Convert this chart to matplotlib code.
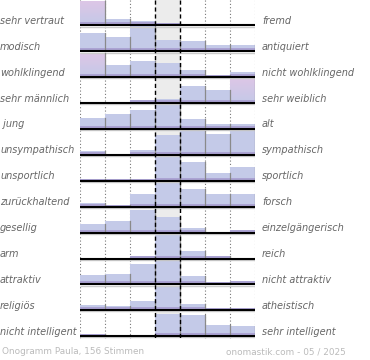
import numpy as np
import matplotlib
matplotlib.use("Agg")
import matplotlib.pyplot as plt
from matplotlib.patches import Rectangle
from matplotlib import transforms

# -----------------------------
# Onogram data (bar heights, 7 steps per row)
# -----------------------------
left_labels = ["sehr vertraut", "modisch", "wohlklingend", "sehr männlich", " jung",
               "unsympathisch", "unsportlich", "zurückhaltend", "gesellig", "arm",
               "attraktiv", "religiös", "nicht intelligent"]
right_labels = ["fremd", "antiquiert", "nicht wohlklingend", "sehr weiblich", "alt",
                "sympathisch", "sportlich", "forsch", "einzelgängerisch", "reich",
                "nicht attraktiv", "atheistisch", "sehr intelligent"]

r1 = [24, 6, 4, 2.3, 0, 0, 0]
r2 = [18.4, 14, 25.5, 11, 10, 6, 6]
r3 = [24, 12.3, 16, 14, 7, 2, 5.6]
r4 = [0, 0, 3, 4, 17, 13.6, 25]
r5 = [10.7, 15.3, 19.3, 24.7, 9.7, 4.7, 4.7]
r6 = [3.6, 0, 4.6, 19.6, 24.3, 21, 25]
r7 = [2, 2, 2, 25, 19, 8, 13.5]
r8 = [4, 2, 13, 23.4, 17.4, 12.4, 13]
r9 = [9, 11.6, 23, 15.6, 5, 0, 2.3]
r10 = [1, 1, 2.3, 24, 7.6, 2.5, 1]
r11 = [9.3, 10.7, 20.7, 23.3, 8.3, 2.3, 3.7]
r12 = [5.3, 4.3, 9.3, 24, 6.7, 2.7, 2.7]
r13 = [1.7, 0, 0, 22.5, 21.5, 11, 10.3]
rows = [r1, r2, r3, r4, r5, r6, r7, r8, r9, r10, r11, r12, r13]

# bars drawn with the pink top tint (row, column)
pink_bars = [(0, 0), (2, 0), (3, 6)]

footer_left = "Onogramm Paula, 156 Stimmen"
footer_right = "onomastik.com - 05 / 2025"

# -----------------------------
# Figure
# -----------------------------
W, H = 370, 360
fig = plt.figure(figsize=(W / 100, H / 100), dpi=100)
ax = fig.add_axes([80 / W, 1 - 340 / H, 175 / W, 340 / H])
ax.set_xlim(0, 7)
ax.set_ylim(340, 0)
ax.axis("off")

row_gap = 25.9
first_base = 25.4

# centre column background
ax.add_patch(Rectangle((3, 0), 1, 338, color="#ececec", zorder=0, lw=0))

# dotted guides
for x in [0, 1, 2, 5, 6, 7]:
    ax.plot([x, x], [0, 340], color="#777777", lw=0.8, ls=(0, (1, 2)), zorder=1)

# gradient for pink bars (top pink -> bottom blue)
grad = np.linspace(0, 1, 50).reshape(-1, 1)
top_c = np.array(matplotlib.colors.to_rgb("#ddc6e6"))
bot_c = np.array(matplotlib.colors.to_rgb("#c4c9e8"))
pink_img = top_c * (1 - grad[..., None]) + bot_c * grad[..., None]

for i, vals in enumerate(rows):
    base = first_base + row_gap * i
    for c, h in enumerate(vals):
        if h <= 0:
            continue
        if (i, c) in pink_bars:
            ax.imshow(pink_img, extent=(c, c + 1, base, base - h), aspect="auto",
                      zorder=2, interpolation="bilinear")
        else:
            ax.add_patch(Rectangle((c, base - h), 1, h, color="#c4cae8", lw=0, zorder=2))
        band = min(h, 3)
        ax.add_patch(Rectangle((c, base - band), 1, band, color="#aba3d3", lw=0, zorder=3))
        ax.plot([c + 1, c + 1], [base - h, base], color="#8a8a8a", lw=0.9, zorder=4)
    ax.plot([0, 7.05], [base + 1.2, base + 1.2], color="#cccccc", lw=1.0, zorder=4,
            solid_capstyle="butt")
    ax.plot([0, 7.05], [base, base], color="black", lw=1.5, zorder=5, solid_capstyle="butt")

# dashed centre lines
for x in [3, 4]:
    ax.plot([x, x], [0, 340], color="black", lw=1.0, ls=(0, (3, 2)), zorder=6)

# labels
tr = transforms.blended_transform_factory(fig.transFigure, ax.transData)
for i in range(len(rows)):
    base = first_base + row_gap * i
    ax.text(0 / W, base - 4.6, left_labels[i], transform=tr, ha="left", va="center",
            fontsize=7, style="italic", color="#666666")
    ax.text(262 / W, base - 4.6, right_labels[i], transform=tr, ha="left", va="center",
            fontsize=7, style="italic", color="#666666")

fig.text(2 / W, 1 - 352 / H, footer_left, ha="left", va="center", fontsize=6.4, color="#bbbbbb")
fig.text(346 / W, 1 - 352 / H, footer_right, ha="right", va="center", fontsize=6.4, color="#bbbbbb")

fig.savefig("out.png", dpi=100)
